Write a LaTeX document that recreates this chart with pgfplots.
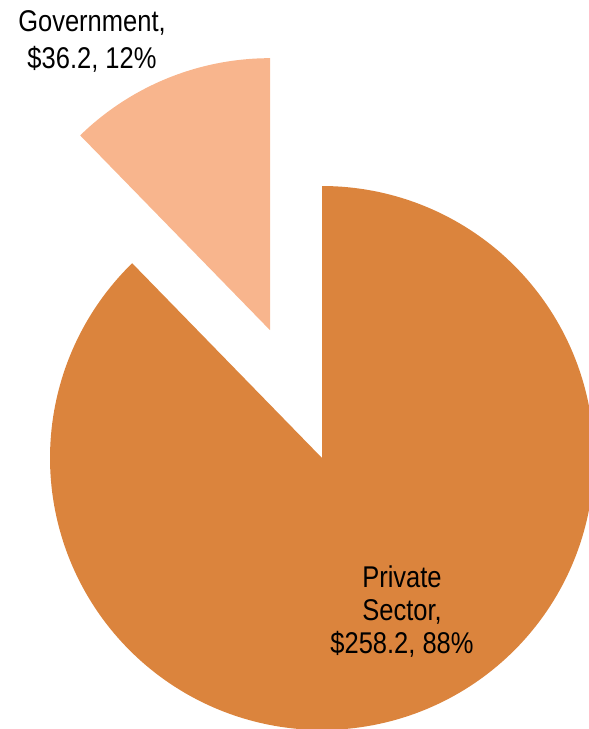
\documentclass[border=0pt]{standalone}
\usepackage{pgfplots}
\usepackage{pgfplotstable}
\usepackage{fontspec}
\setmainfont{Liberation Sans}[FakeStretch=0.85]
\pgfplotsset{compat=1.18}
\definecolor{priv}{RGB}{219,132,61}
\definecolor{gov}{RGB}{248,181,141}
\pgfplotstableread{
sector value
Government 36.2
Private 258.2
}\piedata
\begin{document}
\begin{tikzpicture}
\pgfplotstablegetelem{0}{value}\of\piedata \let\gv\pgfplotsretval
\pgfplotstablegetelem{1}{value}\of\piedata \let\pv\pgfplotsretval
\pgfmathsetmacro{\ga}{360*\gv/(\gv+\pv)}
\pgfmathsetmacro{\gend}{90+\ga}
\pgfmathsetmacro{\gmid}{90+\ga/2}
\pgfmathsetmacro{\gx}{322+138*cos(\gmid)}
\pgfmathsetmacro{\gy}{271+138*sin(\gmid)}
\begin{axis}[name=ax, width=589pt, height=729pt, scale only axis,
  xmin=0, xmax=589, ymin=0, ymax=729, hide axis, clip=true]
\addplot[draw=none, fill=priv, domain=\gend:450, samples=240]
  ({322+272*cos(x)},{271+272*sin(x)}) -- (axis cs:322,271) -- cycle;
\addplot[draw=none, fill=gov, domain=90:\gend, samples=60]
  ({\gx+272*cos(x)},{\gy+272*sin(x)}) -- (axis cs:\gx,\gy) -- cycle;
\node[align=center, font=\fontsize{30}{37}\selectfont, text=black] at (axis cs:92,688) {Government,\\\$36.2, 12\%};
\node[align=center, font=\fontsize{30}{33}\selectfont, text=black] at (axis cs:402,117) {Private\\Sector,\\\$258.2, 88\%};
\end{axis}
\pgfresetboundingbox
\path[use as bounding box] (ax.south west) rectangle (ax.north east);
\end{tikzpicture}
\end{document}
